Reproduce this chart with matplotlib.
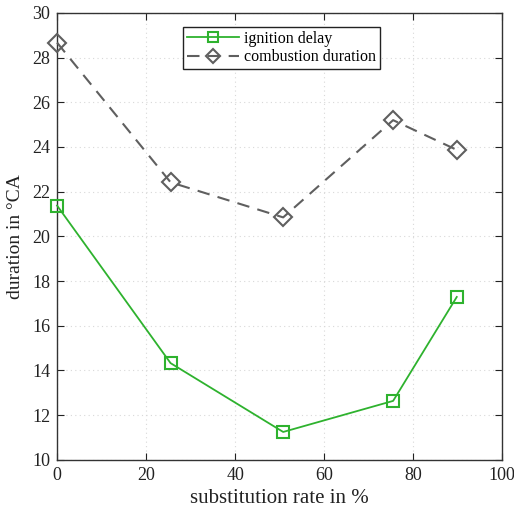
import matplotlib
matplotlib.use("Agg")
import matplotlib.pyplot as plt

substitution = [0, 25.5, 50.8, 75.5, 89.8]
ignition_delay = [21.38, 14.33, 11.25, 12.64, 17.29]
combustion_duration = [28.67, 22.42, 20.85, 25.2, 23.87]

plt.rcParams['font.family'] = ['Liberation Serif', 'DejaVu Serif']

fig = plt.figure(figsize=(5.14, 5.15), dpi=100)
ax = fig.add_axes([0.111, 0.107, 0.866, 0.868])

green = '#2eb22e'
gray = '#5f5f5f'
ax.plot(substitution, ignition_delay, '-', color=green, lw=1.3, marker='s', ms=9,
        mfc='none', mec=green, mew=1.5, label='ignition delay', clip_on=False, zorder=3)
ax.plot(substitution, combustion_duration, '--', color=gray, lw=1.5, dashes=(6, 4),
        marker='D', ms=9, mfc='none', mec=gray, mew=1.5, label='combustion duration',
        clip_on=False, zorder=3)

ax.set_xlim(0, 100)
ax.set_ylim(10, 30)
ax.set_xticks(range(0, 101, 20))
ax.set_yticks(range(10, 31, 2))
ax.grid(True, linestyle=(0, (1, 3)), color='#d8d8d8', lw=0.8)
ax.tick_params(direction='in', top=True, right=True, labelsize=13, colors='#222222',
               length=5, pad=5)
for s in ax.spines.values():
    s.set_color('#333333')
    s.set_linewidth(1.0)
ax.set_xlabel('substitution rate in %', fontsize=15, color='#222222', labelpad=4)
ax.set_ylabel('duration in °CA', fontsize=14, color='#222222', labelpad=6)
leg = ax.legend(loc='upper left', bbox_to_anchor=(0.282, 0.969), fontsize=11.5, frameon=True,
                fancybox=False, edgecolor='#222222', handlelength=3.3, borderpad=0.25,
                labelspacing=0.15, handletextpad=0.3, borderaxespad=0, markerscale=0.75,
                framealpha=1)
leg.get_frame().set_linewidth(1.0)
fig.savefig('out.png', dpi=100)
